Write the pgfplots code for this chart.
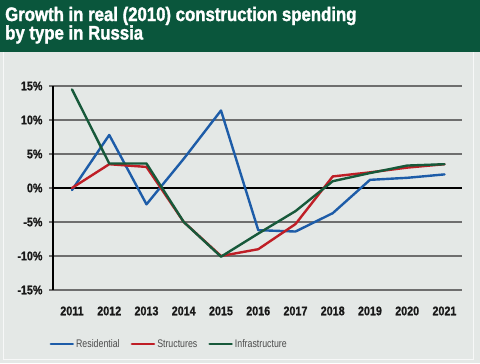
\documentclass[border=0pt]{standalone}
\usepackage{fontspec}
\setmainfont{Liberation Sans}
\newfontfamily\titlefont[FakeStretch=0.86,FakeBold=1.6]{Liberation Sans}
\newfontfamily\tickfont[FakeStretch=0.86,FakeBold=0.8]{Liberation Sans}
\newfontfamily\legfont[FakeStretch=0.8]{Liberation Sans}
\usepackage{pgfplots}
\pgfplotsset{compat=1.18}
\definecolor{banner}{HTML}{0A563C}
\definecolor{panel}{HTML}{E4E8E6}
\definecolor{resid}{HTML}{1D5CA8}
\definecolor{struct}{HTML}{BF1E26}
\definecolor{infra}{HTML}{17593A}
\definecolor{gridc}{HTML}{6E6E6E}
\begin{document}
\begin{tikzpicture}[x=1bp,y=1bp]
\useasboundingbox (0,0) rectangle (480,363);
\fill[panel] (0,0) rectangle (480,363);
\draw[white!70!panel, line width=1bp] (3,4) rectangle (473,320);
\fill[banner] (0,311) rectangle (480,363);
\node[anchor=base west, text=white, inner sep=0] at (5,342) {\titlefont\fontsize{19.5bp}{19bp}\selectfont\bfseries Growth in real (2010) construction spending};
\node[anchor=base west, text=white, inner sep=0] at (5,323.5) {\titlefont\fontsize{19.5bp}{19bp}\selectfont\bfseries by type in Russia};
\begin{axis}[
  at={(53bp,73bp)}, anchor=south west,
  scale only axis, width=409bp, height=204bp,
  xmin=2010.49, xmax=2021.47,
  ymin=-15, ymax=15,
  xtick={2011,...,2021},
  xticklabels={2011,2012,2013,2014,2015,2016,2017,2018,2019,2020,2021},
  ytick={-15,-10,-5,0,5,10,15},
  yticklabels={-15\%,-10\%,-5\%,0\%,5\%,10\%,15\%},
  axis line style={draw=none},
  ymajorgrids, major grid style={gridc, line width=1.1bp},
  xtick style={draw=none},
  ytick style={gridc, line width=1.1bp},
  tick align=outside, major tick length=4bp, ytick pos=left,
  ticklabel style={font=\tickfont\fontsize{12.5bp}{13bp}\selectfont\bfseries, text=black!90},
  xticklabel style={yshift=-9bp},
  yticklabel style={xshift=-3bp},
  legend style={at={(0.284,-0.265)}, anchor=center, draw=none, fill=none,
    font=\legfont\fontsize{11bp}{12bp}\selectfont, text=black!70,
    /tikz/every even column/.append style={column sep=9bp}},
  legend columns=3,
  legend image code/.code={\draw[#1, line width=2.6bp] (0bp,0bp) -- (22bp,0bp);},
  every axis plot/.append style={line width=2.4bp, line join=round, line cap=round},
  clip=false,
]
\draw[black, line width=1.3bp] (rel axis cs:0,0.5) -- (rel axis cs:1,0.5);
\draw[black, line width=1.3bp] (rel axis cs:0,0) -- (rel axis cs:0,1);
\addplot[resid] coordinates {(2011,-0.3) (2012,7.8) (2013,-2.4) (2014,4.3) (2015,11.4) (2016,-6.2) (2017,-6.4) (2018,-3.7) (2019,1.2) (2020,1.5) (2021,2.0)};
\addlegendentry{Residential}
\addplot[struct] coordinates {(2011,0) (2012,3.5) (2013,3.1) (2014,-5.0) (2015,-10.0) (2016,-9.0) (2017,-5.3) (2018,1.7) (2019,2.3) (2020,3.0) (2021,3.5)};
\addlegendentry{Structures}
\addplot[infra] coordinates {(2011,14.5) (2012,3.6) (2013,3.6) (2014,-5.0) (2015,-10.1) (2016,-6.7) (2017,-3.4) (2018,1.0) (2019,2.2) (2020,3.3) (2021,3.5)};
\addlegendentry{Infrastructure}
\end{axis}
\end{tikzpicture}
\end{document}
